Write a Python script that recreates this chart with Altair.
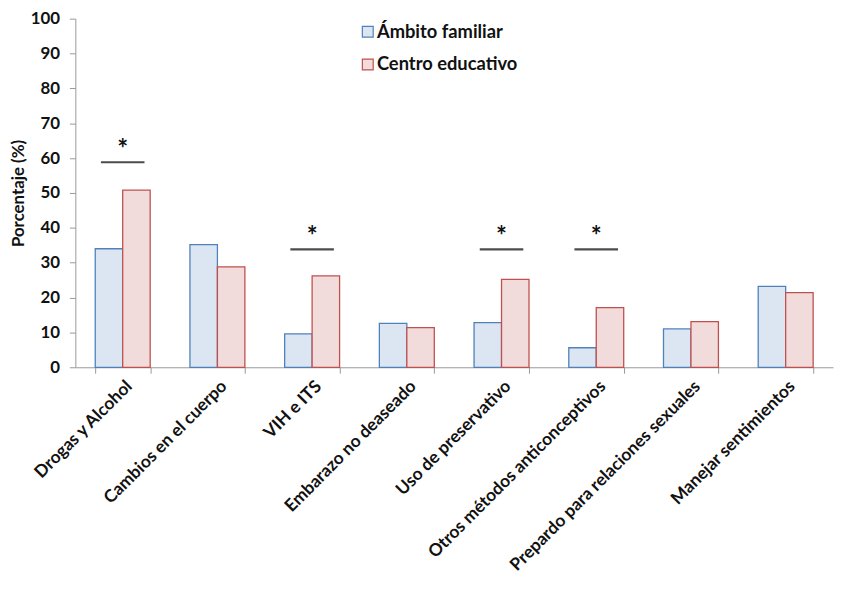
import altair as alt
import pandas as pd

categories = ["Drogas y Alcohol", "Cambios en el cuerpo", "VIH e ITS", "Embarazo no deaseado",
              "Uso de preservativo", "Otros métodos anticonceptivos",
              "Prepardo para relaciones sexuales", "Manejar sentimientos"]
familiar = [34, 35.2, 9.6, 12.6, 12.8, 5.6, 11.0, 23.2]
educativo = [50.8, 28.8, 26.2, 11.4, 25.2, 17.1, 13.1, 21.4]
sig_line = [58.8, None, 33.8, None, 33.8, 33.8, None, None]
series = ["Ámbito familiar", "Centro educativo"]

rows = []
for c, f, e in zip(categories, familiar, educativo):
    rows.append({"cat": c, "serie": series[0], "val": f})
    rows.append({"cat": c, "serie": series[1], "val": e})
df = pd.DataFrame(rows)
sig = pd.DataFrame([{"cat": c, "val": s, "ys": s + 3.5} for c, s in zip(categories, sig_line) if s is not None])

FONT = "Lato"
xaxis = alt.Axis(labelAngle=-45, labelFontWeight="bold",
                 labelFontSize=17.5, labelColor="#111", labelFont=FONT, labelLimit=0,
                 labelOverlap=False, tickBand="extent", domainColor="#999", tickColor="#999",
                 tickSize=6, labelPadding=4)
xscale = alt.Scale(paddingInner=0.42, paddingOuter=0.21)
yaxis = alt.Axis(values=[0, 10, 20, 30, 40, 50, 60, 70, 80, 90, 100], grid=False, domainColor="#999",
                 tickColor="#999", tickSize=6, labelFontSize=17, labelFontWeight="bold",
                 labelColor="#111", labelFont=FONT, titleFont=FONT, titleFontSize=17,
                 titleFontWeight="bold", titleColor="#111", labelPadding=10, titlePadding=3,
                 labelOverlap=False)
yscale = alt.Scale(domain=[0, 100], nice=False)

def X():
    return alt.X("cat:N", sort=categories, title=None, scale=xscale, axis=xaxis)

bars = alt.Chart(df).mark_bar(strokeWidth=1.3).encode(
    x=X(),
    xOffset=alt.XOffset("serie:N", sort=series, scale=alt.Scale(paddingInner=0, paddingOuter=0)),
    y=alt.Y("val:Q", title="Porcentaje (%)", scale=yscale, axis=yaxis),
    color=alt.Color("serie:N", sort=series, title=None,
                    scale=alt.Scale(domain=series, range=["#dce6f2", "#f2dcdb"]),
                    legend=alt.Legend(orient="none", legendX=286, legendY=4, symbolType="square",
                                      symbolSize=120, labelFontSize=18.5, labelFontWeight="bold",
                                      labelFont=FONT, labelColor="#111", rowPadding=14,
                                      symbolStrokeWidth=1.2, labelOffset=0)),
    stroke=alt.Stroke("serie:N", sort=series, title=None,
                      scale=alt.Scale(domain=series, range=["#4f81bd", "#c0504d"])),
)

lines = alt.Chart(sig).mark_tick(color="black", thickness=2.2, size=44, orient="horizontal").encode(
    x=X(), y=alt.Y("val:Q", title="Porcentaje (%)", scale=yscale, axis=yaxis))
stars = alt.Chart(sig).mark_text(text="*", fontSize=26, fontWeight="bold", color="#111",
                                 baseline="middle", font=FONT).encode(
    x=X(), y=alt.Y("ys:Q", title="Porcentaje (%)", scale=yscale, axis=yaxis))

chart = alt.layer(bars, lines, stars).properties(
    width=765, height=352, background="white",
    autosize=alt.AutoSizeParams(type="none"),
    padding={"left": 68, "top": 8, "right": 2, "bottom": 209},
).configure_view(stroke=None).configure_axisY(labelOverlap=False)

chart.save("out.html", embed_options={"renderer": "svg", "actions": False})
